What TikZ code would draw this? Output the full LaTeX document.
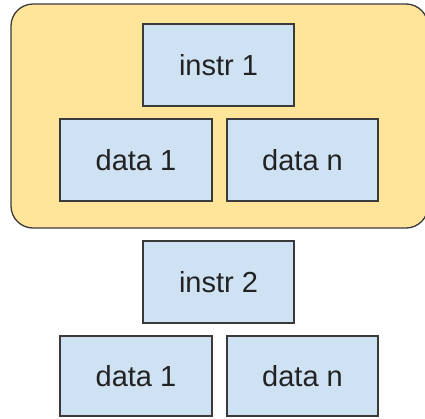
\documentclass[tikz,border=0pt]{standalone}
\usepackage{fontspec}
\setmainfont{Liberation Sans}
\definecolor{groupfill}{HTML}{FFE599}
\definecolor{boxfill}{HTML}{CFE2F3}
\definecolor{edge}{HTML}{3A3A3A}
\definecolor{ink}{HTML}{222222}
\tikzset{
  cell/.style={draw=edge, line width=1.3pt, fill=boxfill, text=ink,
    minimum width=151pt, minimum height=82pt, inner sep=0pt,
    font=\fontsize{29}{34}\selectfont},
  group/.style={draw=edge, line width=1.3pt, fill=groupfill, rounded corners=22pt}
}
\begin{document}
\begin{tikzpicture}[x=1pt,y=-1pt]
  \useasboundingbox (0,0) rectangle (425,418);
  \clip (0,0) rectangle (425,418);
  % highlighted group around the first instruction
  \draw[group] (11,4) rectangle (428,228);
  \node[cell] (i1) at (218.5,65) {instr 1};
  \node[cell, minimum width=152pt] (d1a) at (136,160) {data 1};
  \node[cell] (dna) at (302.5,160) {data n};
  % second instruction
  \node[cell] (i2) at (218.5,282) {instr 2};
  \node[cell, minimum width=152pt, minimum height=80pt] (d1b) at (136,376) {data 1};
  \node[cell, minimum height=80pt] (dnb) at (302.5,376) {data n};
\end{tikzpicture}
\end{document}
